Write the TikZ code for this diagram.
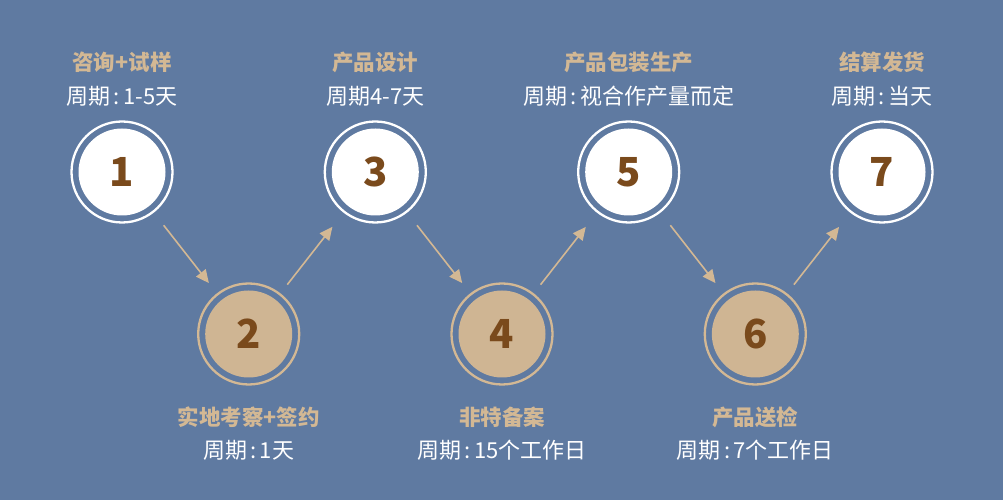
\documentclass[tikz,border=0pt]{standalone}
\usepackage{fontspec}
\setmainfont{Noto Sans CJK SC}
\usetikzlibrary{arrows.meta}

\definecolor{bgblue}{HTML}{5F7AA1}
\definecolor{tanline}{HTML}{D3B894}
\definecolor{tanfill}{HTML}{CFB593}
\definecolor{numbrown}{HTML}{7A4A1C}

\newcommand{\gapcolon}{\hspace{0.15em}:\hspace{0.15em}}

\tikzset{
    ring/.style={circle, draw=#1, line width=2.3pt, minimum size=101pt, inner sep=0pt},
    disc/.style={circle, fill=#1, minimum size=87pt, inner sep=0pt,
        font=\fontsize{40}{40}\selectfont\bfseries, text=numbrown},
    title/.style={font=\fontsize{21.5}{21.5}\selectfont\bfseries, text=tanline},
    period/.style={font=\fontsize{22}{22}\selectfont, text=white},
    flow/.style={draw=tanline, line width=1.6pt, -{Triangle[length=13pt, width=12pt]}},
    down/.style={flow, shorten <=16pt, shorten >=13pt},
    up/.style={flow, shorten <=11pt, shorten >=18pt}
}

\begin{document}
\begin{tikzpicture}[x=1pt, y=1pt]
    \fill[bgblue] (0,0) rectangle (1003,500);
    \useasboundingbox (0,0) rectangle (1003,500);

    % top row
    \foreach \i/\x in {1/122, 3/375.3, 5/628.7, 7/882} {
        \node[ring=white] (s\i) at (\x,328) {};
        \node[disc=white] (n\i) at (s\i) {\i};
    }
    % bottom row
    \foreach \i/\x in {2/248.7, 4/502, 6/755.3} {
        \node[ring=tanline] (s\i) at (\x,166) {};
        \node[disc=tanfill] (n\i) at (s\i) {\i};
    }

    \node[title]  (t1) at (122,438) {咨询+试样};
    \node[period] (p1) at (122,404) {周期\gapcolon 1-5天};
    \node[title]  (t3) at (375.3,438) {产品设计};
    \node[period] (p3) at (375.3,404) {周期4-7天};
    \node[title]  (t5) at (628.7,438) {产品包装生产};
    \node[period] (p5) at (628.7,404) {周期\gapcolon 视合作产量而定};
    \node[title]  (t7) at (882,438) {结算发货};
    \node[period] (p7) at (882,404) {周期\gapcolon 当天};

    \node[title]  (t2) at (248.7,83) {实地考察+签约};
    \node[period] (p2) at (248.7,50) {周期\gapcolon 1天};
    \node[title]  (t4) at (502,83) {非特备案};
    \node[period] (p4) at (502,50) {周期\gapcolon 15个工作日};
    \node[title]  (t6) at (755.3,83) {产品送检};
    \node[period] (p6) at (755.3,50) {周期\gapcolon 7个工作日};

    \draw[down] (s1) -- (s2);
    \draw[up]   (s2) -- (s3);
    \draw[down] (s3) -- (s4);
    \draw[up]   (s4) -- (s5);
    \draw[down] (s5) -- (s6);
    \draw[up]   (s6) -- (s7);
\end{tikzpicture}
\end{document}
